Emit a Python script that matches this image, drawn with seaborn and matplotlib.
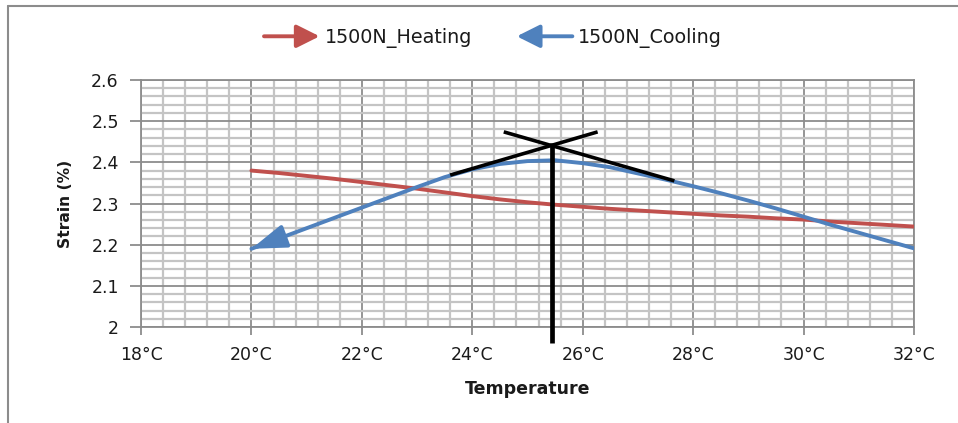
import numpy as np
import pandas as pd
import matplotlib
matplotlib.use("Agg")
import matplotlib.pyplot as plt
import seaborn as sns
from matplotlib.ticker import MultipleLocator, FuncFormatter
from matplotlib.patches import FancyArrowPatch
from matplotlib.legend_handler import HandlerBase
from matplotlib.lines import Line2D

# ---- data ----
temperature = [20.0, 20.5, 21.0, 21.5, 22.0, 22.5, 23.0, 23.5, 24.0, 24.5, 25.0, 25.5, 26.0,
               26.5, 27.0, 27.5, 28.0, 28.5, 29.0, 29.5, 30.0, 30.5, 31.0, 31.5, 32.0]
heating = [2.380, 2.374, 2.367, 2.360, 2.352, 2.344, 2.336, 2.327, 2.318, 2.310, 2.303, 2.297, 2.292,
           2.287, 2.283, 2.279, 2.275, 2.271, 2.268, 2.264, 2.261, 2.256, 2.252, 2.248, 2.244]
cooling = [2.190, 2.215, 2.240, 2.265, 2.290, 2.315, 2.340, 2.364, 2.383, 2.396, 2.403, 2.405, 2.398,
           2.388, 2.373, 2.358, 2.342, 2.325, 2.307, 2.288, 2.268, 2.248, 2.229, 2.210, 2.191]
series_names = ["1500N_Heating", "1500N_Cooling"]

# tangent construction lines (black)
tangent1_x = [23.6, 26.27]
tangent1_y = [2.369, 2.474]
tangent2_x = [24.57, 27.66]
tangent2_y = [2.474, 2.355]
vertical_x = [25.44, 25.44]
vertical_y = [2.446, 1.962]

x_ticks = [18, 20, 22, 24, 26, 28, 30, 32]
y_ticks = [2.0, 2.1, 2.2, 2.3, 2.4, 2.5, 2.6]

RED = "#C0504D"
BLUE = "#4F81BD"
TXT = "#1a1a1a"

sns.set_style("white")
plt.rcParams["font.family"] = ["DejaVu Sans"]

W, H = 958, 423
fig = plt.figure(figsize=(W / 100, H / 100), dpi=100)
ax = fig.add_axes([141 / W, 1 - 327 / H, (914 - 141) / W, (327 - 80) / H])

df = pd.DataFrame({
    "Temperature": temperature * 2,
    "Strain": heating + cooling,
    "Series": [series_names[0]] * len(temperature) + [series_names[1]] * len(temperature),
})
sns.lineplot(data=df, x="Temperature", y="Strain", hue="Series",
             palette=[RED, BLUE], linewidth=2.8, ax=ax, legend=False, zorder=3)

# blue arrowhead at the 20°C end
ax.annotate("", xy=(temperature[0], cooling[0]), xytext=(temperature[1], cooling[1]),
            arrowprops=dict(arrowstyle="-|>,head_length=1.25,head_width=0.42", color=BLUE,
                            lw=2.8, shrinkA=0, shrinkB=0, mutation_scale=17), zorder=4)

# black construction lines
ax.plot(tangent1_x, tangent1_y, color="black", lw=2.6, zorder=5, solid_capstyle="butt")
ax.plot(tangent2_x, tangent2_y, color="black", lw=2.6, zorder=5, solid_capstyle="butt")
ax.plot(vertical_x, vertical_y, color="black", lw=3.4, zorder=5, clip_on=False, solid_capstyle="butt")

ax.set_xlim(18, 32)
ax.set_ylim(2.0, 2.6)
ax.xaxis.set_minor_locator(MultipleLocator(0.4))
ax.yaxis.set_minor_locator(MultipleLocator(0.02))
ax.set_xticks(x_ticks)
ax.set_yticks(y_ticks)
ax.xaxis.set_major_formatter(FuncFormatter(lambda v, p: f"{int(round(v))}°C"))
ax.yaxis.set_major_formatter(FuncFormatter(lambda v, p: f"{v:g}"))

ax.grid(which="minor", color="#C4C4C4", lw=1.6, zorder=0)
ax.grid(which="major", color="#8C8C8C", lw=1.3, zorder=1)
ax.set_axisbelow(True)
for s in ax.spines.values():
    s.set_color("#8C8C8C")
    s.set_linewidth(1.3)

ax.tick_params(axis="y", which="major", left=True, length=8, width=1.3, color="#8C8C8C",
               pad=8, labelsize=12.5, labelcolor=TXT)
ax.tick_params(axis="x", which="major", bottom=True, length=6, width=1.3, color="#8C8C8C",
               pad=8, labelsize=12.5, labelcolor=TXT)
ax.tick_params(which="minor", length=0)

ax.set_xlabel("Temperature", fontsize=12.5, fontweight="bold", labelpad=11, color=TXT)
ax.set_ylabel("Strain (%)", fontsize=11.2, fontweight="bold", labelpad=13, color=TXT)


class ArrowHandler(HandlerBase):
    def __init__(self, direction):
        super().__init__()
        self.direction = direction

    def create_artists(self, legend, orig_handle, xdescent, ydescent, width, height, fontsize, trans):
        y = height / 2 - ydescent
        x0, x1 = -xdescent, -xdescent + width
        if self.direction == "left":
            x0, x1 = x1, x0
        a = FancyArrowPatch((x0, y), (x1, y), arrowstyle="-|>,head_length=1.0,head_width=0.5",
                            color=orig_handle.get_color(), lw=2.8, mutation_scale=14,
                            shrinkA=0, shrinkB=0, transform=trans)
        return [a]


h_heat = Line2D([], [], color=RED)
h_cool = Line2D([], [], color=BLUE)
fig.legend([h_heat, h_cool], series_names, loc="center", ncol=2,
           bbox_to_anchor=(493 / W, 1 - 38 / H), frameon=False, fontsize=13.8,
           handlelength=2.9, handletextpad=0.3, columnspacing=2.3,
           handler_map={h_heat: ArrowHandler("right"), h_cool: ArrowHandler("left")},
           labelcolor=TXT)

# outer chart frame (left and top edges visible)
fig.add_artist(Line2D([8 / W, 8 / W], [0, 1 - 6 / H], transform=fig.transFigure, color="#8C8C8C", lw=1.5))
fig.add_artist(Line2D([8 / W, 1], [1 - 6 / H, 1 - 6 / H], transform=fig.transFigure, color="#8C8C8C", lw=1.5))

fig.savefig("out.png", dpi=100)
